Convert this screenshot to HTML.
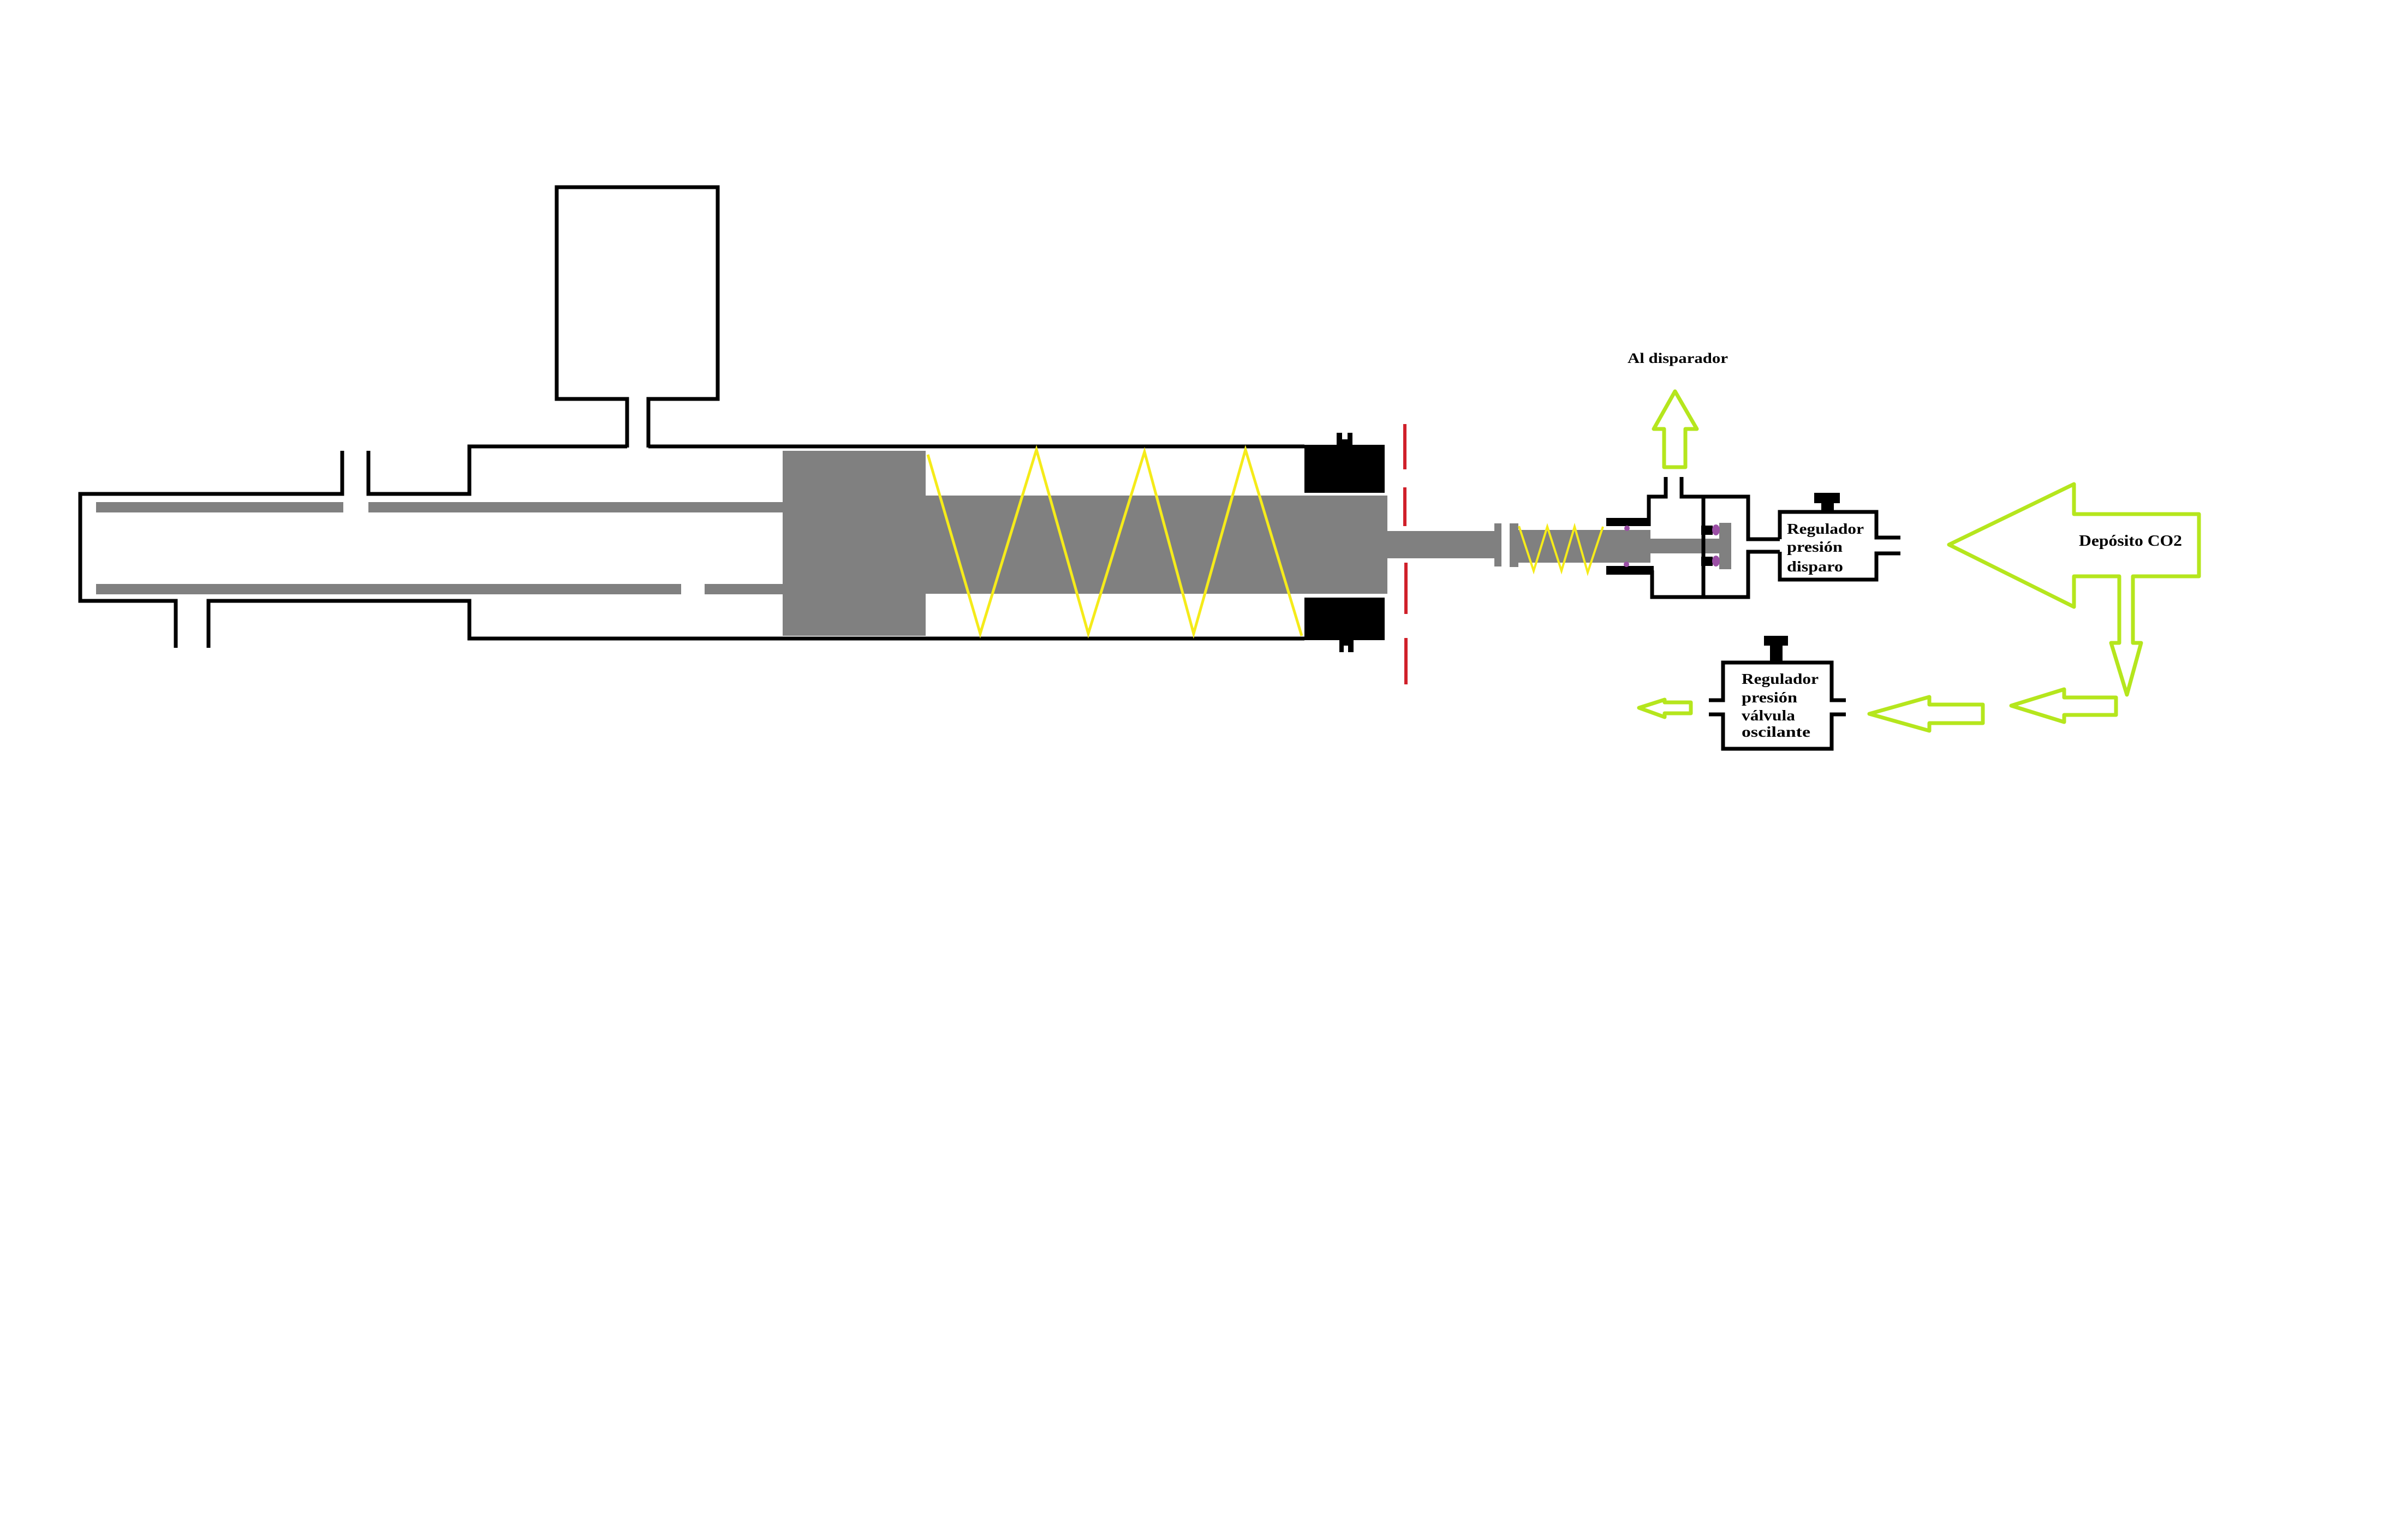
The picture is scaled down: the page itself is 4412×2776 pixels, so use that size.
<!DOCTYPE html>
<html><head><meta charset="utf-8"><style>
html,body{margin:0;padding:0;background:#fff;}
svg{display:block;}
text{font-family:"Liberation Serif",serif;font-weight:bold;fill:#000;}
</style></head><body>
<svg width="4412" height="2776" viewBox="0 0 4412 2776" xmlns="http://www.w3.org/2000/svg">
<rect width="4412" height="2776" fill="#fff"/>
<g fill="none" stroke="#000" stroke-width="7">
<!-- reservoir -->
<polyline points="1149,820 1149,731 1020,731 1020,343 1315,343 1315,731 1188,731 1188,820"/>
<!-- top outline -->
<polyline points="1188,818 2390,818"/>
<polyline points="1149,818 860,818 860,905 675,905 675,826"/>
<polyline points="627,826 627,905 147,905 147,1101 322,1101 322,1187"/>
<polyline points="382,1187 382,1101 860,1101 860,1170 2390,1170"/>
</g>
<!-- gray bars -->
<g fill="#808080">
<rect x="176" y="920" width="453" height="19"/>
<rect x="675" y="920" width="763" height="19"/>
<rect x="176" y="1070" width="1072" height="19"/>
<rect x="1291" y="1070" width="147" height="19"/>
<rect x="1434" y="826" width="262" height="339"/>
<rect x="1696" y="908" width="846" height="180"/>
<rect x="2542" y="973" width="196" height="50"/>
<rect x="2738" y="959" width="13" height="79"/>
<rect x="2766" y="959" width="16" height="80"/>
<rect x="2782" y="971" width="242" height="60"/>
<rect x="3024" y="987" width="126" height="27"/>
<rect x="3150" y="958" width="22" height="85"/>
</g>
<!-- black blocks -->
<g fill="#000">
<rect x="2390" y="815" width="147" height="88"/>
<rect x="2449" y="793" width="29" height="22"/>
<rect x="2390" y="1095" width="147" height="78"/>
<rect x="2454" y="1173" width="26" height="22"/>
</g>
<rect x="2459" y="793" width="10" height="12" fill="#fff"/>
<rect x="2462" y="1183" width="8" height="12" fill="#fff"/>
<!-- red dashed -->
<g stroke="#d0202a" stroke-width="6">
<line x1="2574" y1="777" x2="2574" y2="860"/>
<line x1="2574" y1="893" x2="2574" y2="964"/>
<line x1="2576" y1="1031" x2="2576" y2="1125"/>
<line x1="2576" y1="1169" x2="2576" y2="1254"/>
</g>
<!-- springs -->
<polyline fill="none" stroke="#f5eb1a" stroke-width="5" points="1700,833 1796,1161 1899,824 1994,1161 2097,828 2187,1161 2282,824 2385,1165"/>
<polyline fill="none" stroke="#f5eb1a" stroke-width="4" points="2783,964 2810,1046 2835,965 2861,1046 2885,965 2909,1049 2937,965"/>
<!-- valve body -->
<g fill="none" stroke="#000" stroke-width="7">
<polyline points="3021,964 3021,910 3052,910 3052,874"/>
<polyline points="3081,874 3081,910 3203,910 3203,988 3261,988"/>
<polyline points="3261,1011 3203,1011 3203,1094 3027,1094 3027,1045"/>
<line x1="3121" y1="910" x2="3121" y2="1094"/>
<polyline points="3261,988 3261,938 3438,938 3438,985 3482,985"/>
<polyline points="3261,1011 3261,1062 3438,1062 3438,1014 3482,1014"/>
<!-- lower regulator -->
<polyline points="3131,1283 3157,1283 3157,1214 3356,1214 3356,1283 3382,1283"/>
<polyline points="3131,1309 3157,1309 3157,1372 3356,1372 3356,1309 3382,1309"/>
</g>
<g fill="#000">
<rect x="2943" y="949" width="81" height="15"/>
<rect x="2943" y="1037" width="87" height="16"/>
<rect x="3117" y="963" width="21" height="17"/>
<rect x="3117" y="1020" width="21" height="17"/>
<rect x="3324" y="903" width="47" height="19"/>
<rect x="3337" y="920" width="23" height="18"/>
<rect x="3232" y="1165" width="44" height="18"/>
<rect x="3243" y="1181" width="23" height="33"/>
</g>
<g fill="#9b4fa5">
<ellipse cx="3144" cy="971" rx="7" ry="10"/>
<ellipse cx="3144" cy="1028" rx="7" ry="10"/>
<circle cx="2981" cy="968" r="5"/>
<circle cx="2980" cy="1034" r="5"/>
</g>
<!-- green arrows -->
<g fill="none" stroke="#b5e61d" stroke-width="7" stroke-linejoin="round">
<polygon points="3069,717 3030,786 3049,786 3049,856 3088,856 3088,786 3109,786"/>
<polygon points="3571,998 3800,887 3800,942 4029,942 4029,1056 3908,1056 3908,1178 3923,1178 3897,1273 3868,1178 3883,1178 3883,1056 3800,1056 3800,1112"/>
<polygon points="3685,1293 3782,1263 3782,1278 3877,1278 3877,1310 3782,1310 3782,1323"/>
<polygon points="3425,1308 3535,1277 3535,1291 3633,1291 3633,1325 3535,1325 3535,1339"/>
<polygon points="3003,1297 3050,1282 3050,1287 3098,1287 3098,1307 3050,1307 3050,1314"/>
</g>
<!-- texts -->
<text x="2982" y="665" font-size="26" textLength="184" lengthAdjust="spacingAndGlyphs">Al disparador</text>
<text x="3274" y="978" font-size="27" textLength="141" lengthAdjust="spacingAndGlyphs">Regulador</text>
<text x="3274" y="1011" font-size="27" textLength="102" lengthAdjust="spacingAndGlyphs">presión</text>
<text x="3274" y="1047" font-size="27" textLength="103" lengthAdjust="spacingAndGlyphs">disparo</text>
<text x="3809" y="1000" font-size="28" textLength="189" lengthAdjust="spacingAndGlyphs">Depósito CO2</text>
<text x="3191" y="1253" font-size="27" textLength="141" lengthAdjust="spacingAndGlyphs">Regulador</text>
<text x="3191" y="1287" font-size="27" textLength="102" lengthAdjust="spacingAndGlyphs">presión</text>
<text x="3191" y="1320" font-size="27" textLength="98" lengthAdjust="spacingAndGlyphs">válvula</text>
<text x="3191" y="1350" font-size="27" textLength="126" lengthAdjust="spacingAndGlyphs">oscilante</text>
</svg>
</body></html>
